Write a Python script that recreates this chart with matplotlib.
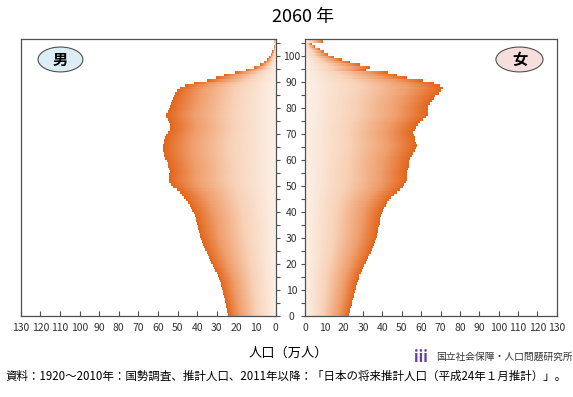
import numpy as np
import matplotlib as mpl
mpl.use('Agg')
import matplotlib.pyplot as plt
from matplotlib.colors import LinearSegmentedColormap
from matplotlib.patches import Ellipse

plt.rcParams['font.family'] = ['Noto Sans CJK JP', 'DejaVu Sans']

# population (10k persons) by age 0..105 (105 = 105+), 2060 projection
ages = np.arange(0, 106)
male = [24.5, 24.8, 25.0, 25.3, 25.6, 25.9, 26.2, 26.6, 26.9, 27.2,
        27.6, 27.9, 28.2, 28.6, 29.1, 29.7, 30.3, 30.9, 31.5, 32.2,
        32.9, 33.5, 34.1, 34.8, 35.4, 36.0, 36.5, 37.0, 37.6, 38.2,
        38.6, 38.9, 39.2, 39.6, 40.0, 40.3, 40.6, 41.0, 41.5, 42.0,
        42.7, 43.3, 44.0, 45.0, 46.0, 46.8, 47.8, 48.8, 50.5, 52.5,
        53.5, 54.3, 54.7, 54.5, 54.3, 54.0, 54.5, 55.0, 55.3, 55.8,
        56.5, 57.0, 57.3, 57.5, 57.5, 57.5, 57.3, 57.0, 56.5, 56.0,
        55.0, 54.0, 53.8, 54.0, 54.5, 55.0, 56.0, 56.0, 55.3, 54.5,
        54.0, 53.5, 53.0, 52.5, 52.0, 51.5, 50.5, 49.0, 46.5, 42.0,
        35.0, 30.5, 26.5, 21.0, 15.5, 11.0, 8.0, 6.0, 4.6, 3.5,
        2.6, 1.8, 1.2, 0.9, 0.7, 1.2]
female = [22.7, 23.0, 23.3, 23.7, 24.0, 24.4, 24.8, 25.1, 25.5, 25.8,
          26.1, 26.4, 26.7, 27.1, 27.6, 28.1, 28.7, 29.3, 29.9, 30.6,
          31.3, 31.9, 32.5, 33.2, 33.8, 34.4, 34.9, 35.5, 36.0, 36.5,
          37.0, 37.2, 37.6, 37.9, 38.3, 38.6, 38.7, 38.9, 39.2, 39.6,
          40.2, 40.8, 41.6, 42.5, 43.5, 44.6, 46.0, 47.3, 49.0, 50.5,
          51.2, 52.0, 52.5, 52.5, 52.5, 52.5, 53.0, 53.4, 53.6, 53.8,
          54.2, 55.0, 55.9, 56.5, 57.3, 57.7, 57.3, 56.8, 56.5, 56.0,
          55.9, 56.5, 57.3, 58.2, 59.5, 61.1, 62.5, 63.5, 63.7, 63.7,
          63.7, 64.5, 65.5, 66.3, 67.1, 68.9, 70.0, 71.4, 69.7, 66.3,
          61.0, 52.5, 47.5, 43.0, 31.5, 33.6, 28.5, 23.0, 19.0, 15.0,
          12.0, 10.0, 7.7, 5.2, 3.4, 9.5]

xticks = np.arange(0, 131, 10)
yticks = np.arange(0, 106, 5)

cmap = LinearSegmentedColormap.from_list(
    'pyr', [(0.0, '#FDF1E8'), (0.4, '#F8D2B8'), (0.75, '#EF9E6B'), (1.0, '#E3661C')])

fig = plt.figure(figsize=(5.73, 3.97), dpi=100)
ax_m = fig.add_axes([0.0361, 0.2048, 0.445, 0.6962])
ax_f = fig.add_axes([0.5323, 0.2048, 0.4393, 0.6962])

tick_font = ['Liberation Sans Narrow', 'Noto Sans CJK JP']
xs = np.arange(0.05, 130, 0.1)
sub = 10  # sub-rows per age


def draw_side(ax, vals):
    v = np.repeat(np.asarray(vals, dtype=float), sub)[:, None]
    # each row is one age bar, shaded from the axis (light) to its end (dark)
    t = np.clip(xs[None, :] / v, 0, 1)
    rgba = cmap(t)
    rgba[..., 3] = (xs[None, :] <= v).astype(float)
    ax.imshow(rgba, extent=[0, 130, ages[0], ages[-1] + 1], origin='lower',
              aspect='auto', interpolation='nearest', zorder=2)
    for s in ax.spines.values():
        s.set_color('#505050')
        s.set_linewidth(0.9)
        s.set_zorder(4)
    ax.set_ylim(0, 106.3)
    ax.set_xticks(xticks)
    ax.set_xticklabels([str(t) for t in xticks], fontsize=7.5, color='#333333',
                       family=tick_font)
    ax.tick_params(axis='x', direction='in', length=3.5, width=0.8,
                   color='#505050', pad=5)
    ax.set_yticks(yticks)


draw_side(ax_m, male)
draw_side(ax_f, female)

ax_m.set_xlim(130, 0)
ax_f.set_xlim(0, 130)

ax_m.yaxis.tick_right()
ax_m.set_yticklabels([str(t) if t % 10 == 0 else '' for t in yticks],
                     fontsize=7.5, color='#333333', ha='center', family=tick_font)
ax_m.tick_params(axis='y', direction='out', length=3, width=0.8,
                 color='#505050', pad=8.5)
ax_f.tick_params(axis='y', direction='out', length=3, width=0.8,
                 color='#505050', labelleft=False)

# sex labels
e1 = Ellipse((0.156, 0.927), 0.176, 0.09, transform=ax_m.transAxes,
             facecolor='#DCEDF5', edgecolor='#505050', linewidth=0.8, zorder=5)
ax_m.add_patch(e1)
ax_m.text(0.156, 0.927, '男', transform=ax_m.transAxes, ha='center', va='center',
          fontsize=11, fontweight='bold', zorder=6)
e2 = Ellipse((0.852, 0.927), 0.187, 0.09, transform=ax_f.transAxes,
             facecolor='#F5DEDC', edgecolor='#505050', linewidth=0.8, zorder=5)
ax_f.add_patch(e2)
ax_f.text(0.852, 0.927, '女', transform=ax_f.transAxes, ha='center', va='center',
          fontsize=11, fontweight='bold', zorder=6)

fig.text(0.529, 0.957, '2060 年', ha='center', va='center', fontsize=13)
fig.text(0.504, 0.111, '人口（万人）', ha='center', va='center', fontsize=9.5)
fig.text(0.722, 0.101, 'iii', ha='left', va='center', fontsize=11,
         color='#6A3FA0', fontweight='bold', style='italic')
fig.text(0.761, 0.101, '国立社会保障・人口問題研究所', ha='left', va='center',
         fontsize=7, color='#333333')
fig.text(0.0096, 0.052,
         '資料：1920～2010年：国勢調査、推計人口、2011年以降：「日本の将来推計人口（平成24年１月推計）」。',
         ha='left', va='center', fontsize=8.3)

plt.savefig('out.png', dpi=100)
